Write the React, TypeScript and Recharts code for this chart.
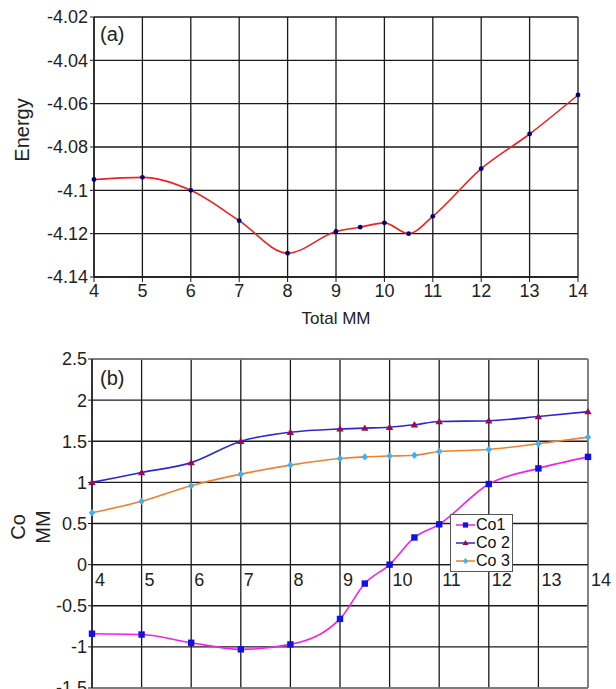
import React from "react";
import {
  LineChart, Line, XAxis, YAxis, CartesianGrid, Legend, ReferenceLine, ReferenceDot,
} from "recharts";

// shared x positions (Total MM)
const totalMM = [4, 5, 6, 7, 8, 9, 9.5, 10, 10.5, 11, 12, 13, 14];
const xTicks = [4, 5, 6, 7, 8, 9, 10, 11, 12, 13, 14];

// (a) energy
const energy = [-4.095, -4.094, -4.1, -4.114, -4.129, -4.119, -4.117, -4.115, -4.12, -4.112, -4.09, -4.074, -4.056];
const energyTicks = [-4.14, -4.12, -4.1, -4.08, -4.06, -4.04, -4.02];

// (b) Co magnetic moments
const co1 = [-0.84, -0.85, -0.95, -1.03, -0.97, -0.66, -0.23, 0.0, 0.33, 0.49, 0.98, 1.17, 1.31];
const co2 = [1.0, 1.12, 1.24, 1.5, 1.61, 1.65, 1.66, 1.67, 1.7, 1.74, 1.75, 1.8, 1.86];
const co3 = [0.63, 0.77, 0.96, 1.1, 1.21, 1.29, 1.31, 1.32, 1.33, 1.375, 1.4, 1.47, 1.55];
const coTicks = [-1.5, -1, -0.5, 0, 0.5, 1, 1.5, 2, 2.5];

const FONT = "'Liberation Sans', Arial, Helvetica, sans-serif";
const GRID = "#1a1a1a";
const TEXT = "#222";

const data = totalMM.map((x, i) => ({
  x,
  energy: energy[i],
  co1: co1[i],
  co2: co2[i],
  co3: co3[i],
}));

type Shape = "square" | "triangle" | "diamond";

const series: { key: string; name: string; stroke: string; fill: string; shape: Shape }[] = [
  { key: "co1", name: "Co1", stroke: "#ee22ee", fill: "#1010e8", shape: "square" },
  { key: "co2", name: "Co 2", stroke: "#2a2ad0", fill: "#9a0a50", shape: "triangle" },
  { key: "co3", name: "Co 3", stroke: "#f08030", fill: "#40b0ee", shape: "diamond" },
];

function marker(shape: Shape, cx: number, cy: number, fill: string, s = 3.2) {
  if (shape === "square") {
    return <rect x={cx - s} y={cy - s} width={s * 2} height={s * 2} fill={fill} />;
  }
  if (shape === "triangle") {
    return (
      <polygon
        points={`${cx},${cy - s - 0.5} ${cx + s + 0.5},${cy + s - 0.5} ${cx - s - 0.5},${cy + s - 0.5}`}
        fill={fill}
      />
    );
  }
  return (
    <polygon
      points={`${cx},${cy - s - 0.5} ${cx + s},${cy} ${cx},${cy + s + 0.5} ${cx - s},${cy}`}
      fill={fill}
    />
  );
}

const makeDot = (shape: Shape, fill: string) => (props: any) => {
  const { cx, cy, index } = props;
  if (cx == null || cy == null) return <g key={index} />;
  return <g key={index}>{marker(shape, cx, cy, fill)}</g>;
};

// legend rows follow the series order (Co1, Co 2, Co 3)
const renderLegend = (props: any) => {
  const payload = props.payload || [];
  const rows = series.filter((s) => payload.some((p: any) => p.dataKey === s.key));
  return (
    <div
      style={{
        border: "1px solid #555",
        background: "#fff",
        width: 63,
        padding: "1px 0 1px 4px",
        boxSizing: "border-box",
        fontFamily: FONT,
        fontSize: 16,
        lineHeight: "18px",
        color: "#111",
      }}
    >
      {rows.map((s) => (
        <div key={s.key} style={{ display: "flex", alignItems: "center", whiteSpace: "nowrap", height: 18 }}>
          <svg width={21} height={12} style={{ flex: "none" }}>
            <line x1={1} y1={6} x2={20} y2={6} stroke={s.stroke} strokeWidth={1.5} />
            {marker(s.shape, 10.5, 6, s.fill, 2.6)}
          </svg>
          <span>{s.name}</span>
        </div>
      ))}
    </div>
  );
};

const tickStyle = { fontSize: 18, fill: TEXT, fontFamily: FONT };

export default function App() {
  return (
    <div style={{ position: "fixed", top: 0, left: 0, width: 616, height: 689, background: "#fff" }}>
      {/* (a) Energy vs Total MM */}
      <div style={{ position: "absolute", top: 0, left: 0 }}>
        <LineChart width={616} height={330} data={data} margin={{ top: 17, right: 38, bottom: 0, left: 0 }}>
          <CartesianGrid stroke={GRID} strokeWidth={1.3} />
          <XAxis
            dataKey="x"
            type="number"
            domain={[4, 14]}
            ticks={xTicks}
            interval={0}
            height={53}
            tick={tickStyle}
            tickSize={5}
            tickMargin={2}
            tickLine={{ stroke: GRID }}
            axisLine={{ stroke: GRID, strokeWidth: 1.3 }}
            label={(p: any) => (
              <text
                x={p.viewBox.x + p.viewBox.width / 2}
                y={p.viewBox.y + 47}
                textAnchor="middle"
                fontSize={17}
                fontFamily={FONT}
                fill={TEXT}
              >
                Total MM
              </text>
            )}
          />
          <YAxis
            type="number"
            domain={[-4.14, -4.02]}
            ticks={energyTicks}
            interval={0}
            width={94}
            tick={tickStyle}
            tickSize={4}
            tickMargin={2}
            tickLine={{ stroke: GRID }}
            axisLine={{ stroke: GRID, strokeWidth: 1.3 }}
            label={() => (
              <text
                x={29}
                y={130}
                transform="rotate(-90, 29, 130)"
                textAnchor="middle"
                fontSize={20}
                fontFamily={FONT}
                fill={TEXT}
              >
                Energy
              </text>
            )}
          />
          <Line
            type="monotone"
            dataKey="energy"
            stroke="#ee2222"
            strokeWidth={1.6}
            dot={{ r: 2.4, fill: "#00007a", stroke: "none" }}
            activeDot={false}
            isAnimationActive={false}
          />
          <text x={100} y={41} fontSize={20} fontFamily={FONT} fill={TEXT}>(a)</text>
        </LineChart>
      </div>

      {/* (b) Co moments vs Total MM */}
      <div style={{ position: "absolute", top: 340, left: 0 }}>
        <LineChart width={616} height={349} data={data} margin={{ top: 19, right: 28, bottom: 1, left: 0 }}>
          <CartesianGrid stroke={GRID} strokeWidth={1.3} />
          <XAxis dataKey="x" type="number" domain={[4, 14]} ticks={xTicks} interval={0} hide />
          <YAxis
            type="number"
            domain={[-1.5, 2.5]}
            ticks={coTicks}
            interval={0}
            width={92}
            tick={tickStyle}
            tickSize={4}
            tickMargin={1}
            tickLine={{ stroke: GRID }}
            axisLine={{ stroke: GRID, strokeWidth: 1.3 }}
            label={() => (
              <g>
                <text
                  x={25}
                  y={187}
                  transform="rotate(-90, 25, 187)"
                  textAnchor="middle"
                  fontSize={20}
                  fontFamily={FONT}
                  fill={TEXT}
                >
                  Co
                </text>
                <text
                  x={50}
                  y={187}
                  transform="rotate(-90, 50, 187)"
                  textAnchor="middle"
                  fontSize={20}
                  fontFamily={FONT}
                  fill={TEXT}
                >
                  MM
                </text>
              </g>
            )}
          />
          <ReferenceLine x={14} stroke="#8a8a8a" strokeWidth={1.5} />
          <ReferenceLine y={2.5} stroke="#8a8a8a" strokeWidth={1.5} />
          <ReferenceLine y={-1.5} stroke="#8a8a8a" strokeWidth={1.5} />
          <ReferenceLine y={0} stroke={GRID} strokeWidth={1.4} />
          {xTicks.map((t) => (
            <ReferenceDot
              key={t}
              x={t}
              y={0}
              r={0}
              fill="none"
              stroke="none"
              label={(p: any) => (
                <text
                  x={p.viewBox.x + 3}
                  y={p.viewBox.y + 21}
                  textAnchor="start"
                  fontSize={18}
                  fontFamily={FONT}
                  fill={TEXT}
                >
                  {t}
                </text>
              )}
            />
          ))}
          {series.map((s) => (
            <Line
              key={s.key}
              type="monotone"
              dataKey={s.key}
              name={s.name}
              stroke={s.stroke}
              strokeWidth={1.6}
              dot={makeDot(s.shape, s.fill)}
              activeDot={false}
              isAnimationActive={false}
            />
          ))}
          <Legend
            layout="vertical"
            align="center"
            verticalAlign="middle"
            content={renderLegend}
            wrapperStyle={{ left: 450, top: 174, width: 63 }}
          />
          <text x={100} y={45} fontSize={20} fontFamily={FONT} fill={TEXT}>(b)</text>
        </LineChart>
      </div>
    </div>
  );
}
